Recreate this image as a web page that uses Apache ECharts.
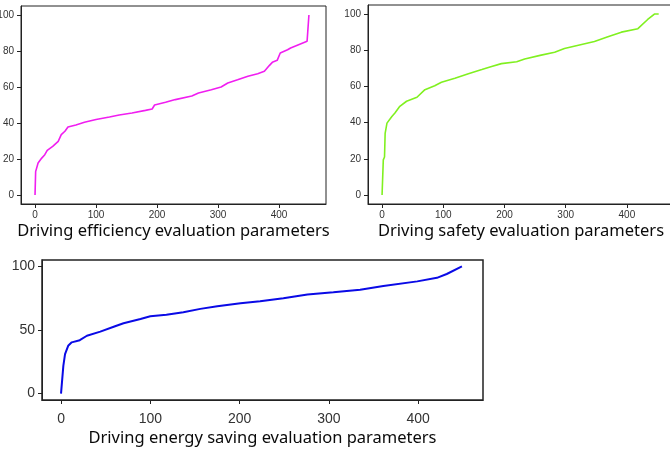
<!DOCTYPE html>
<html>
<head>
<meta charset="utf-8">
<script src="https://cdn.jsdelivr.net/npm/echarts@6/dist/echarts.min.js"></script>
<style>
  html, body { margin: 0; padding: 0; background: #fff; }
  #myCharts { width: 670px; height: 450px; }
</style>
</head>
<body>
<div id="myCharts"></div>
<script>
// tick labels
var xTicks = [0, 100, 200, 300, 400];
var yTicksTop = [0, 20, 40, 60, 80, 100];
var yTicksBottom = [0, 50, 100];

// driving efficiency (magenta)
var effX = [0, 1, 5, 11, 16, 20, 29, 38, 40, 43, 49, 54, 67, 81, 100, 122, 138, 159, 181, 192, 196, 214, 230, 257, 268, 289, 305, 316, 332, 349, 365, 376, 384, 389, 397, 402, 414, 419, 446, 448, 449];
var effY = [0, 13, 17.8, 20.5, 22.4, 24.8, 27, 29.8, 30.7, 33.5, 35.4, 37.8, 38.9, 40.4, 41.9, 43.3, 44.4, 45.6, 47, 47.8, 50, 51.5, 53, 55, 56.7, 58.5, 60, 62.2, 64, 66, 67.4, 68.7, 71.9, 73.7, 74.8, 78.9, 80.7, 81.7, 85.4, 85.5, 100];

// driving safety (green)
var safeX = [0, 2, 4, 5, 8, 16, 21, 29, 40, 57, 70, 86, 97, 119, 141, 163, 179, 195, 220, 233, 260, 282, 298, 326, 347, 369, 391, 418, 434, 445, 452];
var safeY = [0, 19.4, 21, 34, 39.7, 43.4, 45.3, 49, 51.8, 54, 58.2, 60.4, 62.3, 64.5, 67, 69.3, 71, 72.6, 73.6, 75.2, 77.3, 78.9, 81, 83.2, 84.8, 87.4, 90, 91.9, 97, 100, 100];

// driving energy saving (blue)
var energyX = [0, 2.6, 4.5, 8, 12, 21, 29, 44, 59, 70, 89, 100, 118, 137, 156, 175, 201, 223, 249, 276, 305, 335, 361, 399, 421, 432, 449];
var energyY = [0, 21.8, 31, 37.6, 40.3, 42, 45.5, 48.7, 52.6, 55.3, 58.7, 60.8, 62, 64, 66.6, 68.7, 71, 72.6, 75, 77.9, 79.7, 81.6, 84.5, 88.2, 91, 94, 100];

function pairs(xs, ys) {
  return xs.map(function (x, i) { return [x, ys[i]]; });
}

var frameColor = "#222";

function makeX(idx, min, max, name, labelSize, labelMargin, nameGap) {
  return {
    type: "value",
    gridIndex: idx,
    min: min,
    max: max,
    splitLine: { show: false },
    axisLine: { show: true, onZero: false, lineStyle: { color: frameColor, width: 1 } },
    axisTick: { show: true, length: 4, customValues: xTicks, lineStyle: { color: frameColor } },
    axisLabel: { customValues: xTicks, color: "#333", fontSize: labelSize, fontFamily: "Liberation Sans", margin: labelMargin },
    name: name,
    nameLocation: "middle",
    nameGap: nameGap,
    nameTextStyle: { color: "#0a0a0a", fontSize: 16.5, fontFamily: "Noto Sans" }
  };
}

function makeY(idx, ticks, labelSize) {
  return {
    type: "value",
    gridIndex: idx,
    min: -5,
    max: 105,
    splitLine: { show: false },
    axisLine: { show: true, onZero: false, lineStyle: { color: frameColor, width: 1 } },
    axisTick: { show: true, length: 4, customValues: ticks, lineStyle: { color: frameColor } },
    axisLabel: { customValues: ticks, color: "#333", fontSize: labelSize, fontFamily: "Liberation Sans", margin: 7 }
  };
}

var chart = echarts.init(document.getElementById("myCharts"));
var chartOptions = {
  animation: false,
  backgroundColor: "#fff",
  grid: [
    { left: 21, top: 6, width: 305, height: 198, show: true, borderColor: frameColor, borderWidth: 1, outerBoundsMode: "none", containLabel: false },
    { left: 368, top: 5, width: 306, height: 199, show: true, borderColor: frameColor, borderWidth: 1, outerBoundsMode: "none", containLabel: false },
    { left: 42, top: 260, width: 441, height: 140, show: true, borderColor: frameColor, borderWidth: 1.5, outerBoundsMode: "none", containLabel: false }
  ],
  xAxis: [
    makeX(0, -23, 477, "Driving efficiency evaluation parameters", 10, 6, 19),
    makeX(1, -23, 477, "Driving safety evaluation parameters", 10, 6, 19),
    makeX(2, -21.3, 472.6, "Driving energy saving evaluation parameters", 14, 12, 30)
  ],
  yAxis: [
    makeY(0, yTicksTop, 10),
    makeY(1, yTicksTop, 10),
    makeY(2, yTicksBottom, 14)
  ],
  series: [
    {
      type: "line", xAxisIndex: 0, yAxisIndex: 0, showSymbol: false,
      lineStyle: { color: "#f01ef0", width: 1.6 },
      data: pairs(effX, effY)
    },
    {
      type: "line", xAxisIndex: 1, yAxisIndex: 1, showSymbol: false,
      lineStyle: { color: "#80f020", width: 1.6 },
      data: pairs(safeX, safeY)
    },
    {
      type: "line", xAxisIndex: 2, yAxisIndex: 2, showSymbol: false,
      lineStyle: { color: "#0a0ae6", width: 2 },
      data: pairs(energyX, energyY)
    }
  ]
};
chart.setOption(chartOptions);
</script>
</body>
</html>
